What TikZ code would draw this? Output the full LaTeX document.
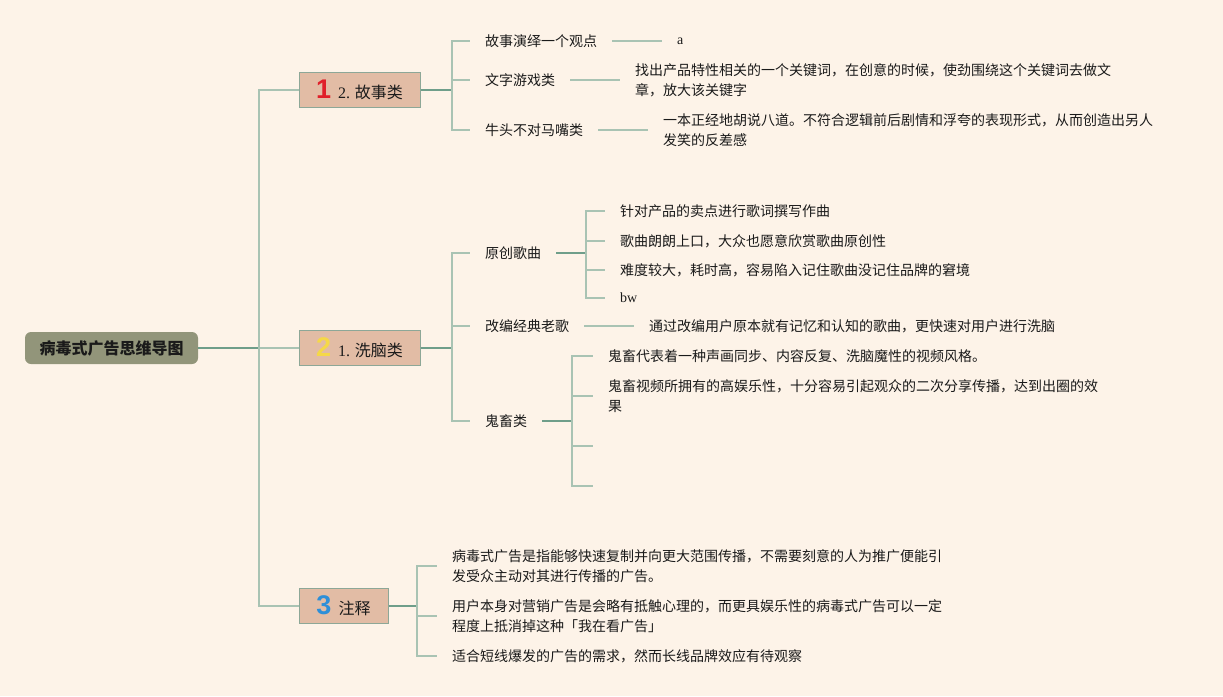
\documentclass[tikz,border=0pt]{standalone}
\usepackage{fontspec}
\setmainfont{Noto Sans CJK SC}
\newfontfamily\lat{Liberation Serif}
\newfontfamily\numfont{Liberation Sans}
\usepackage{xcolor}
\usepackage{tikz}

\definecolor{bgc}{HTML}{FDF3E8}
\definecolor{rootc}{HTML}{92957A}
\definecolor{catc}{HTML}{E2BCA5}
\definecolor{boxline}{HTML}{8DA797}
\definecolor{linec}{HTML}{A9C3B3}
\definecolor{stemc}{HTML}{6F9E8A}
\definecolor{inkc}{HTML}{1A1A1A}
\definecolor{numred}{HTML}{E0202A}
\definecolor{numyellow}{HTML}{F5D848}
\definecolor{numblue}{HTML}{2E8FD8}

\newcommand{\numicon}[2]{{\numfont\bfseries\fontsize{27}{27}\selectfont\color{#1}#2}}

\tikzset{
  root/.style={rounded corners=6pt, fill=rootc, text=inkc,
    font=\fontsize{16}{20}\selectfont\bfseries,
    minimum width=173pt, minimum height=32pt, inner sep=0pt},
  catbox/.style={draw=boxline, fill=catc, line width=1pt, text=inkc,
    font=\fontsize{16}{20}\selectfont,
    minimum width=121pt, minimum height=35pt, inner sep=0pt},
  leaf/.style={anchor=west, inner xsep=15pt, inner ysep=2pt, align=left, text=inkc},
  link/.style={draw=linec, line width=1.3pt},
  stem/.style={draw=stemc, line width=1.8pt},
}

\begin{document}
\begin{tikzpicture}[x=1pt, y=-1pt, font=\fontsize{14}{20}\selectfont]

\fill[bgc] (0,0) rectangle (1223,696);
\useasboundingbox (0,0) rectangle (1223,696);

% root and the three category boxes
\node[root] (root) at (111.5,348) {病毒式广告思维导图};
\coordinate (spine) at (259,348);

\node[catbox] (story) at (359.5,90)
  {\numicon{numred}{1}\hspace{7pt}{\lat 2.} 故事类};
\node[catbox] (brain) at (359.5,348)
  {\numicon{numyellow}{2}\hspace{7pt}{\lat 1.} 洗脑类};
\node[catbox, minimum width=89pt] (notes) at (343.5,606)
  {\numicon{numblue}{3}\hspace{7pt}注释};

\draw[stem] (root.east) -- (spine);
\draw[link] (spine) |- (story.west);
\draw[link] (spine) -- (brain.west);
\draw[link] (spine) |- (notes.west);

% story branch
\coordinate (jstory) at (452,90);
\node[leaf] (idea) at (470,41) {故事演绎一个观点};
\node[leaf] (word) at (470,80) {文字游戏类};
\node[leaf] (mismatch) at (470,130) {牛头不对马嘴类};

\node[leaf] (ideaa) at (662,41) {\lat a};
\node[leaf] (wordtxt) at (620,80)
  {找出产品特性相关的一个关键词，在创意的时候，使劲围绕这个关键词去做文\\
   章，放大该关键字};
\node[leaf] (mismatchtxt) at (648,130)
  {一本正经地胡说八道。不符合逻辑前后剧情和浮夸的表现形式，从而创造出另人\\
   发笑的反差感};

\draw[stem] (story.east) -- (jstory);
\foreach \n in {idea, word, mismatch}
  \draw[link] (jstory) |- (\n.west);
\draw[link] (idea.east) -- (ideaa.west);
\draw[link] (word.east) -- (wordtxt.west);
\draw[link] (mismatch.east) -- (mismatchtxt.west);

% brainwash branch
\coordinate (jbrain) at (452,348);
\node[leaf] (song) at (470,253) {原创歌曲};
\node[leaf] (oldsong) at (470,326) {改编经典老歌};
\node[leaf] (guichu) at (470,421) {鬼畜类};

\draw[stem] (brain.east) -- (jbrain);
\foreach \n in {song, oldsong, guichu}
  \draw[link] (jbrain) |- (\n.west);

\coordinate (jsong) at (586,253);
\node[leaf] (songa) at (605,211) {针对产品的卖点进行歌词撰写作曲};
\node[leaf] (songb) at (605,241) {歌曲朗朗上口，大众也愿意欣赏歌曲原创性};
\node[leaf] (songc) at (605,270) {难度较大，耗时高，容易陷入记住歌曲没记住品牌的窘境};
\node[leaf] (songd) at (605,298) {\lat bw};
\draw[stem] (song.east) -- (jsong);
\foreach \n in {songa, songb, songc, songd}
  \draw[link] (jsong) |- (\n.west);

\node[leaf] (oldsongtxt) at (634,326) {通过改编用户原本就有记忆和认知的歌曲，更快速对用户进行洗脑};
\draw[link] (oldsong.east) -- (oldsongtxt.west);

\coordinate (jguichu) at (572,421);
\node[leaf] (guichua) at (593,356) {鬼畜代表着一种声画同步、内容反复、洗脑魔性的视频风格。};
\node[leaf] (guichub) at (593,396)
  {鬼畜视频所拥有的高娱乐性，十分容易引起观众的二次分享传播，达到出圈的效\\
   果};
\coordinate (guichuc) at (593,446);
\coordinate (guichud) at (593,486);
\draw[stem] (guichu.east) -- (jguichu);
\foreach \n in {guichua.west, guichub.west, guichuc, guichud}
  \draw[link] (jguichu) |- (\n);

% notes branch
\coordinate (jnotes) at (417,606);
\node[leaf] (notea) at (437,566)
  {病毒式广告是指能够快速复制并向更大范围传播，不需要刻意的人为推广便能引\\
   发受众主动对其进行传播的广告。};
\node[leaf] (noteb) at (437,616)
  {用户本身对营销广告是会略有抵触心理的，而更具娱乐性的病毒式广告可以一定\\
   程度上抵消掉这种「我在看广告」};
\node[leaf] (notec) at (437,656) {适合短线爆发的广告的需求，然而长线品牌效应有待观察};
\draw[stem] (notes.east) -- (jnotes);
\foreach \n in {notea, noteb, notec}
  \draw[link] (jnotes) |- (\n.west);

\end{tikzpicture}
\end{document}
